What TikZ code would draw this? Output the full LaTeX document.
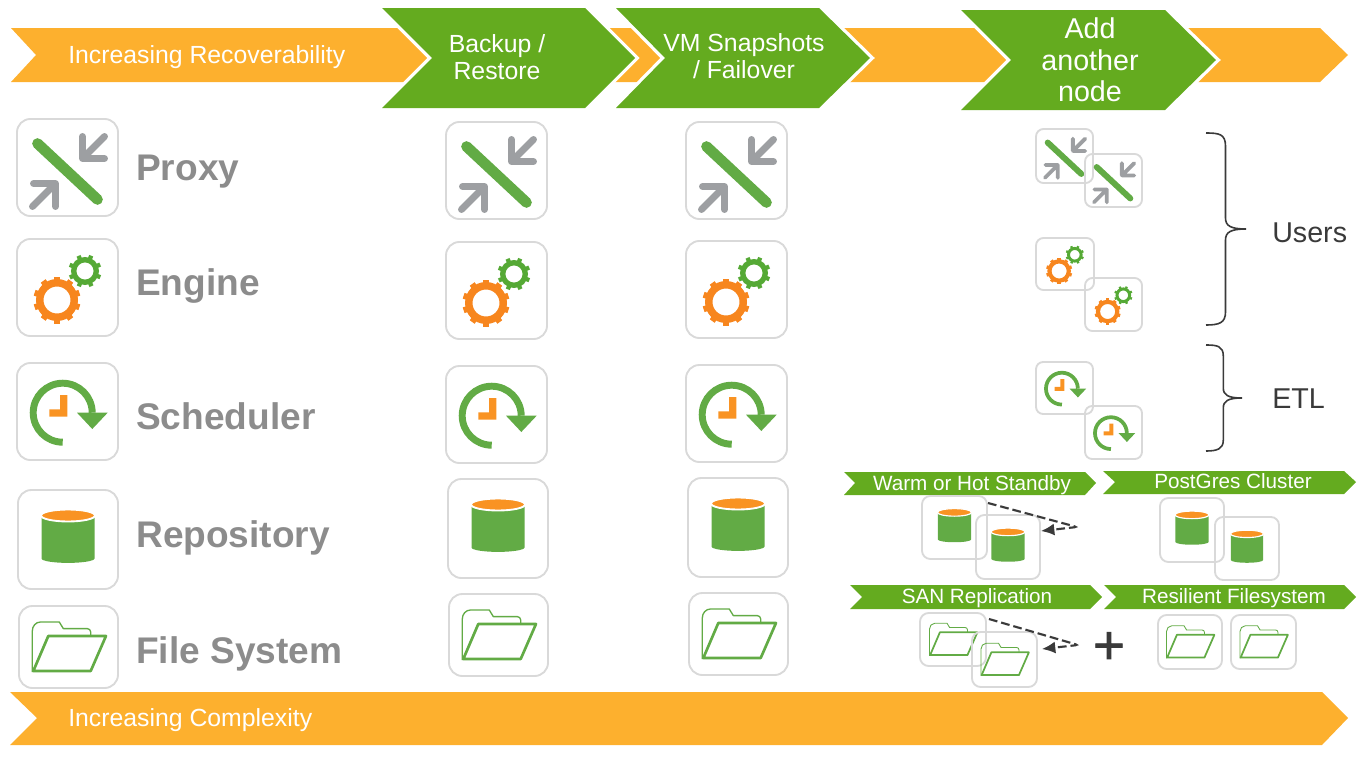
\documentclass[tikz,border=0pt]{standalone}
\usepackage{fontspec}
\setmainfont{Liberation Sans}
\newfontfamily\plusfont[FakeBold=1.2]{Liberation Sans}
\usetikzlibrary{arrows.meta}

\definecolor{barorange}{HTML}{FDB02E}
\definecolor{bargreen}{HTML}{64AB1F}
\definecolor{icongreen}{HTML}{62AB45}
\definecolor{geargreen}{HTML}{55A935}
\definecolor{gearorange}{HTML}{F7861E}
\definecolor{icongray}{HTML}{9D9FA2}
\definecolor{boxgray}{HTML}{D9D9D9}
\definecolor{labelgray}{HTML}{8C8C8C}
\definecolor{inkdark}{HTML}{3A3A3A}

\tikzset{
  orangebar/.style={fill=barorange},
  greenchevron/.style={fill=bargreen,preaction={draw=white,line width=5pt,miter limit=10}},
  greenbar/.style={fill=bargreen},
  bartext/.style={text=white,font=\fontsize{18.6}{22}\selectfont,inner sep=0pt,anchor=base},
  chevtext/.style={text=white,font=\fontsize{18.6}{20.6}\selectfont,inner sep=0pt,align=center},
  addtext/.style={text=white,font=\fontsize{21.5}{23.8}\selectfont,inner sep=0pt,align=center},
  smalltext/.style={text=white,font=\fontsize{15.5}{18}\selectfont,inner sep=0pt,anchor=base},
  labeltext/.style={text=labelgray,font=\bfseries\fontsize{27.8}{30}\selectfont,inner sep=0pt,anchor=base west},
  roletext/.style={text=inkdark,font=\fontsize{21.5}{24}\selectfont,inner sep=0pt,anchor=base west},
  iconbox/.style={draw=boxgray,line width=1.4pt},
  bracket/.style={draw=inkdark,line width=1.2pt},
  replica/.style={draw=inkdark,line width=1.5pt,rounded corners=2pt,dash pattern=on 6.5pt off 3pt,-{Latex[length=10pt,width=9pt]}},
  replicashade/.style={draw=black!18,line width=1.8pt,rounded corners=2pt,dash pattern=on 6.5pt off 3pt},
  proxyicon/.pic={
    \begin{scope}[scale=#1,yscale=-1]
      \draw [icongreen,line width=#1*8pt,line cap=round] (-30,-24) -- (30,32);
      \draw [icongray,line width=#1*5.2pt,line cap=round,line join=round] (37,-31) -- (15,-9) (15,-31) -- (15,-9) -- (37,-9);
      \draw [icongray,line width=#1*5.2pt,line cap=round,line join=round] (-35,39) -- (-12,16) (-34,16) -- (-12,16) -- (-12,39);
    \end{scope}
  },
  engineicon/.pic={
    \begin{scope}[scale=#1,yscale=-1]
      \draw [gearorange,line width=#1*5.6pt] (-10.5,12.5) circle (17.25);
      \foreach \a in {0,36,...,324}
        \draw [gearorange,line width=#1*4.5pt] ([shift={(-10.5,12.5)}]\a+18:20) -- ([shift={(-10.5,12.5)}]\a+18:23.5);
      \draw [geargreen,line width=#1*4pt] (17.5,-16.5) circle (11.3);
      \foreach \a in {0,45,...,315}
        \draw [geargreen,line width=#1*3.2pt] ([shift={(17.5,-16.5)}]\a+22:13) -- ([shift={(17.5,-16.5)}]\a+22:16.5);
    \end{scope}
  },
  clockicon/.pic={
    \begin{scope}[scale=#1,yscale=-1]
      \draw [icongreen,line width=#1*5.2pt] (-4.8,30.7) arc (90:360:29.5);
      \fill [icongreen] (9.5,1.2) -- (40.2,1.2) -- (24.8,17.5) -- cycle;
      \fill [gearorange!70!barorange] (-7.5,-16.5) -- (-0.2,-16.5) -- (-0.2,5.2) -- (-18.2,5.2) -- (-18.2,-2.2) -- (-7.5,-2.2) -- cycle;
    \end{scope}
  },
  repoicon/.pic={
    \begin{scope}[scale=#1,yscale=-1]
      \fill [icongreen] (-26.5,-24) -- (-26.5,19) arc (180:0:26.5 and 4.4) -- (26.5,-24) -- cycle;
      \filldraw [fill=gearorange!70!barorange,draw=white,line width=#1*1.4pt] (0,-24) ellipse (27 and 6);
    \end{scope}
  },
  foldericon/.pic={
    \begin{scope}[scale=#1,yscale=-1]
      \draw [icongreen,line width=#1*1pt,line join=round] (-36.2,25) -- (-36.2,-16) to[out=-90,in=180] (-28,-25) -- (-9.2,-25) -- (-5.2,-18.4) -- (18.8,-18.4) to[out=0,in=-90] (22.2,-15) -- (22.2,-11.7);
      \draw [icongreen,line width=#1*2pt,line join=round] (-20.2,-11) -- (37.5,-11) -- (22.2,24) -- (-35.2,24) -- cycle;
    \end{scope}
  },
}

\begin{document}
\begin{tikzpicture}[x=0.75pt,y=0.75pt,yscale=-1,xscale=1]
	\useasboundingbox (0,0) rectangle (1365,771);

	% top and bottom bars
	\fill [orangebar] (11,28) -- (1320,28) -- (1348,55) -- (1320,82) -- (11,82) -- (36,55) -- cycle;
	\fill [orangebar] (10,692) -- (1322,692) -- (1348,718) -- (1322,745) -- (10,745) -- (37,718) -- cycle;
	\fill [greenchevron] (382,8) -- (585,8) -- (635,58) -- (585,108) -- (382,108) -- (432,58) -- cycle;
	\fill [greenchevron] (616,8) -- (819,8) -- (870,58) -- (819,108) -- (616,108) -- (665,58) -- cycle;
	\fill [greenchevron] (961,10) -- (1165,10) -- (1216,60) -- (1165,110) -- (961,110) -- (1011,60) -- cycle;

	% small banners
	\fill [greenbar] (844,472) -- (1085,472) -- (1096,483) -- (1085,495) -- (844,495) -- (855,483) -- cycle;
	\fill [greenbar] (1103,471) -- (1344,471) -- (1356,482) -- (1344,494) -- (1103,494) -- (1115,482) -- cycle;
	\fill [greenbar] (850,585) -- (1090,585) -- (1102,597) -- (1090,609) -- (850,609) -- (862,597) -- cycle;
	\fill [greenbar] (1104,585) -- (1344,585) -- (1356,597) -- (1344,609) -- (1104,609) -- (1116,597) -- cycle;

	% bar texts
	\node (recoverability) [bartext,anchor=base west] at (68,63) {Increasing Recoverability};
	\node (complexity) [bartext,anchor=base west] at (68,726) {Increasing Complexity};
	\node (backup) [chevtext] at (497,57) {Backup /\\Restore};
	\node (snapshots) [chevtext] at (744,56) {VM Snapshots\\/ Failover};
	\node (addnode) [addtext] at (1090,60) {Add\\another\\node};
	\node (standby) [smalltext] at (972,490) {Warm or Hot Standby};
	\node (cluster) [smalltext] at (1233,488) {PostGres Cluster};
	\node (sanrep) [smalltext] at (977,603) {SAN Replication};
	\node (resilient) [smalltext] at (1234,603) {Resilient Filesystem};

	% left labels
	\node (proxy) [labeltext] at (136,180) {Proxy};
	\node (engine) [labeltext] at (136,295) {Engine};
	\node (scheduler) [labeltext] at (136,429) {Scheduler};
	\node (repository) [labeltext] at (136,547) {Repository};
	\node (filesystem) [labeltext] at (136,663) {File System};
	\node (users) [roletext] at (1272,242) {Users};
	\node (etl) [roletext] at (1272,408) {ETL};

	% icon boxes, scale last
	\foreach \xa/\ya/\xb/\yb/\sc in {17/119/118/216/1,446/122/547/219/1,686/122/787/219/1,1036/129/1093/183/0.56,1085/154/1142/207/0.56}{
		\draw [iconbox,rounded corners=\sc*10pt] (\xa,\ya) rectangle (\xb,\yb);
		\pic at ({(\xa+\xb)/2},{(\ya+\yb)/2}) {proxyicon=\sc};
	}
	\foreach \xa/\ya/\xb/\yb/\sc in {17/239/118/336/1,446/242/547/339/1,686/241/787/338/1,1036/238/1094/290/0.56,1085/278/1142/331/0.56}{
		\draw [iconbox,rounded corners=\sc*10pt] (\xa,\ya) rectangle (\xb,\yb);
		\pic at ({(\xa+\xb)/2},{(\ya+\yb)/2}) {engineicon=\sc};
	}
	\foreach \xa/\ya/\xb/\yb/\sc in {17/363/118/460/1,446/366/547/463/1,686/365/787/462/1,1036/362/1093/414/0.54,1085/406/1142/459/0.54}{
		\draw [iconbox,rounded corners=\sc*10pt] (\xa,\ya) rectangle (\xb,\yb);
		\pic at ({(\xa+\xb)/2},{(\ya+\yb)/2}) {clockicon=\sc};
	}
	\foreach \xa/\ya/\xb/\yb/\sc in {18/490/118/589/1,448/479/548/578/1,688/478/788/577/1,922/496/987/559/0.63,976/515/1040/579/0.63,1160/498/1224/562/0.63,1215/517/1279/580/0.61}{
		\draw [iconbox,rounded corners=\sc*10pt] (\xa,\ya) rectangle (\xb,\yb);
		\pic at ({(\xa+\xb)/2},{(\ya+\yb)/2}) {repoicon=\sc};
	}
	\foreach \xa/\ya/\xb/\yb/\sc in {19/606/118/688/1,449/594/548/676/1,689/593/788/675/1,920/613/986/666/0.65,972/632/1037/687/0.65,1158/615/1222/669/0.65,1231/615/1296/669/0.65}{
		\draw [iconbox,rounded corners=\sc*10pt] (\xa,\ya) rectangle (\xb,\yb);
		\pic at ({(\xa+\xb)/2},{(\ya+\yb)/2}) {foldericon=\sc};
	}

	% braces
	\draw [bracket] (1206,133) .. controls (1219,133) and (1225.5,134) .. (1225.5,146) -- (1225.5,218) .. controls (1225.5,226) and (1231,229) .. (1246,229) .. controls (1231,229) and (1225.5,232) .. (1225.5,240) -- (1225.5,312) .. controls (1225.5,323) and (1219,325) .. (1206,325);
	\draw [bracket] (1206,345) .. controls (1217,345) and (1223.3,346) .. (1223.3,356) -- (1223.3,388) .. controls (1223.3,395) and (1228,398) .. (1242,398) .. controls (1228,398) and (1223.3,401) .. (1223.3,408) -- (1223.3,440) .. controls (1223.3,449) and (1217,451) .. (1206,451);

	% replication links
	\coordinate (standbyfrom) at (988,503);
	\coordinate (standbybend) at (1077,527);
	\coordinate (standbyto) at (1041,531);
	\coordinate (sanfrom) at (989,619);
	\coordinate (sanbend) at (1078,645);
	\coordinate (santo) at (1042,649);
	\draw [replicashade,yshift=-2.2pt] (standbyfrom) -- (standbybend) -- (standbyto);
	\draw [replicashade,yshift=-2.2pt] (sanfrom) -- (sanbend) -- (santo);
	\draw [replica] (standbyfrom) -- (standbybend) -- (standbyto);
	\draw [replica] (sanfrom) -- (sanbend) -- (santo);

	% plus sign
	\node (plus) [text=inkdark,font=\plusfont\fontsize{41}{44}\selectfont,inner sep=0pt] at (1109,648) {+};
\end{tikzpicture}
\end{document}
